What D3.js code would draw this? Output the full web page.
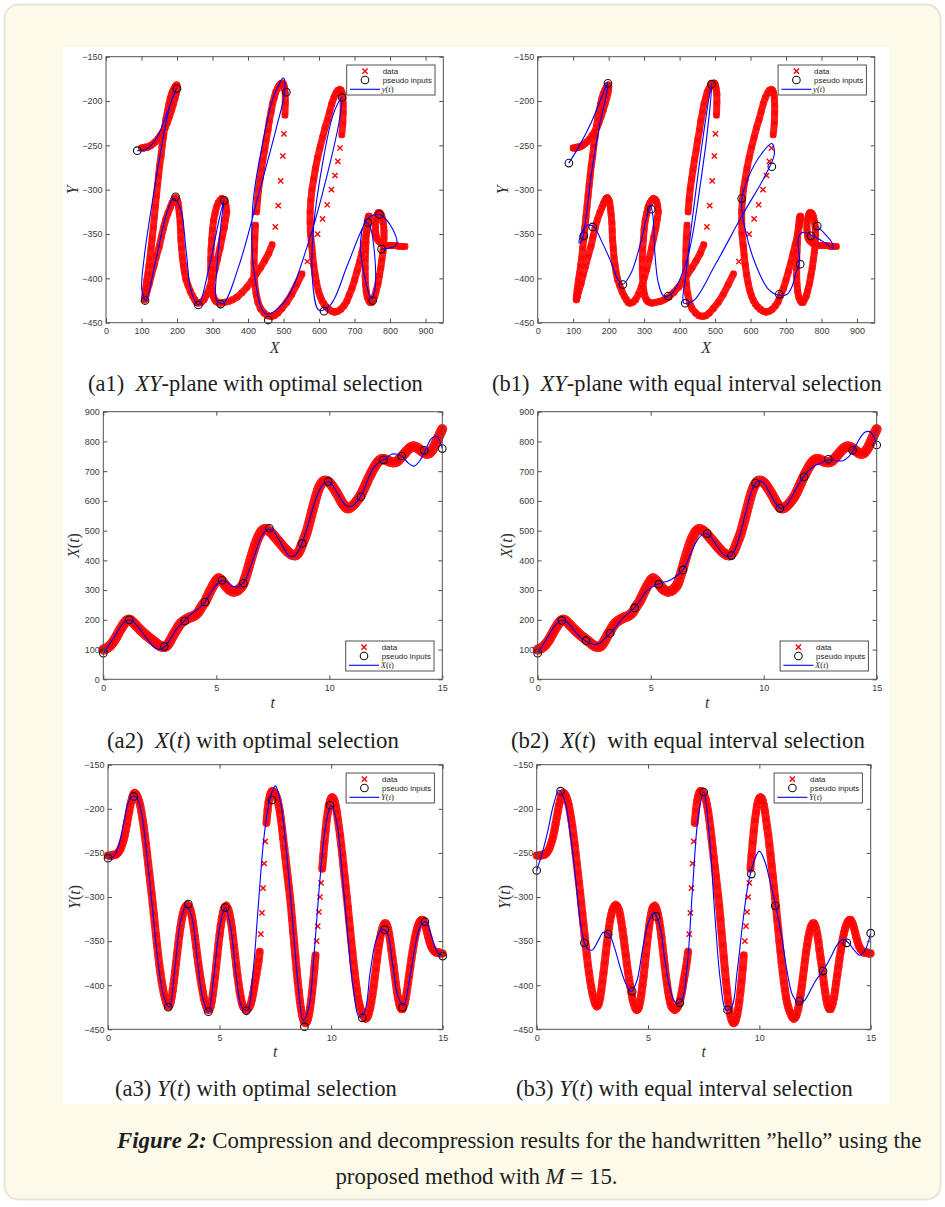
<!DOCTYPE html>
<html>
<head>
<meta charset="utf-8">
<script src="https://cdn.jsdelivr.net/npm/d3@7"></script>
<style>
  body { margin: 0; background: #fff; }
  svg { display: block; }
</style>
</head>
<body>
<script>
// handwritten "hello" trajectory, one sample every 0.05 s (t = 0 .. 15)
var dataStep = 0.05;
var dataX = [
  100,101,103,105,107,110,113,117,122,127, 133,139,146,153,160,167,173,179,185,190,
  195,198,200,200,199,196,193,189,185,181, 177,173,169,165,162,158,155,151,148,145,
  142,139,136,133,130,127,124,121,118,115, 113,111,110,109,109,110,112,116,122,128,
  135,142,150,156,162,168,175,181,186,190, 193,196,198,201,203,205,207,209,210,211,
  213,215,218,221,225,231,238,244,250,255, 260,268,276,284,292,300,307,314,321,327,
  333,337,340,338,335,331,326,321,316,311, 307,303,300,298,296,295,295,296,297,299,
  302,306,310,315,322,333,345,357,370,383, 397,410,423,435,447,458,468,477,485,492,
  498,501,504,505,505,503,501,498,495,491, 487,483,478,474,469,465,460,456,451,447,
  442,438,434,430,427,424,421,419,418,417, 417,419,423,428,435,445,455,464,474,484,
  495,509,523,537,552,567,582,596,610,623, 635,645,653,659,664,667,668,668,667,665,
  662,658,653,648,642,636,630,624,617,610, 603,596,590,585,580,577,575,575,576,579,
  582,585,589,593,598,603,608,614,620,628, 636,644,653,661,670,678,685,693,700,707,
  714,720,726,731,735,738,740,741,741,740, 738,737,735,733,732,731,730,730,730,731,
  733,736,740,744,748,752,757,761,766,770, 774,777,780,782,783,783,782,780,778,776,
  773,770,767,764,762,760,759,759,760,762, 766,771,777,784,792,800,809,817,826,834,
  842
];
var dataY = [
  -253,-253,-253,-253,-253,-252,-252,-252,-251,-250, -248,-246,-243,-239,-235,-230,-224,-217,-210,-203,
  -196,-191,-186,-183,-182,-183,-185,-188,-192,-197, -204,-212,-220,-230,-240,-251,-262,-273,-284,-295,
  -307,-319,-331,-343,-355,-366,-377,-386,-395,-402, -409,-414,-419,-422,-424,-423,-420,-414,-406,-396,
  -386,-375,-364,-353,-343,-334,-326,-320,-315,-312, -310,-309,-310,-312,-315,-321,-328,-337,-346,-356,
  -366,-376,-385,-393,-401,-408,-415,-420,-424,-427, -428,-427,-424,-418,-410,-400,-390,-378,-366,-354,
  -343,-333,-325,-318,-313,-311,-310,-312,-315,-320, -327,-335,-345,-356,-367,-378,-389,-398,-407,-414,
  -420,-424,-426,-427,-428,-427,-426,-424,-421,-416, -410,-403,-395,-388,-380,-372,-362,-342,-318,-290,
  -262,-237,-216,-202,-192,-186,-182,-180,-180,-181, -183,-186,-190,-196,-203,-212,-222,-233,-244,-255,
  -266,-277,-288,-299,-311,-325,-340,-354,-368,-382, -395,-407,-418,-427,-434,-439,-442,-443,-442,-439,
  -434,-427,-418,-407,-395,-381,-366,-350,-333,-317, -300,-284,-268,-253,-238,-225,-213,-204,-196,-191,
  -188,-187,-188,-191,-196,-203,-212,-221,-230,-241, -252,-264,-276,-288,-300,-312,-325,-337,-350,-362,
  -374,-385,-396,-405,-414,-420,-425,-429,-432,-435, -437,-438,-437,-435,-431,-426,-419,-411,-402,-392,
  -382,-372,-362,-354,-346,-340,-335,-332,-330,-330, -332,-336,-342,-350,-360,-369,-378,-388,-398,-407,
  -415,-421,-425,-427,-427,-424,-420,-414,-406,-397, -388,-379,-370,-362,-354,-347,-341,-336,-332,-329,
  -327,-326,-326,-328,-331,-335,-340,-345,-350,-354, -357,-359,-361,-362,-363,-363,-363,-363,-364,-364,
  -364
];

// pseudo inputs (M = 15)
var optT = [0, 1.15, 2.7, 3.6, 4.5, 5.25, 6.2, 7.35, 8.8, 9.95, 11.4, 12.4, 13.2, 14.2, 15];
var optX = [88, 200, 110, 196, 260, 333, 323, 508, 457, 665, 614, 738, 751, 770, 776];
var optY = [-256, -186, -425, -308, -430, -312, -429, -190, -447, -196, -437, -337, -425, -328, -367];
var eqT = [0, 1.07, 2.14, 3.21, 4.29, 5.36, 6.43, 7.5, 8.57, 9.64, 10.71, 11.79, 12.86, 13.93, 15];
var eqX = [88, 198, 130, 155, 240, 320, 368, 490, 416, 660, 575, 681, 740, 770, 788];
var eqY = [-270, -180, -352, -342, -407, -322, -420, -181, -428, -274, -310, -418, -384, -352, -341];

// reconstructed curves, one value every 0.25 s
var fitStep = 0.25;
var optFitX = [88,115,145,175,196,198,180,155,130,108,101,112,140,170,190,210,226,240,260,290,
  318,332,325,312,312,330,375,430,480,503,500,472,440,413,418,450,505,570,625,658,
  664,640,608,584,582,600,632,680,715,732,742,757,757,748,727,717,735,770,808,818,776];
var optFitY = [-256,-254,-240,-210,-188,-186,-205,-255,-315,-375,-413,-425,-380,-328,-310,-322,-370,-415,-430,-388,
  -335,-312,-335,-390,-425,-428,-385,-305,-230,-190,-174,-195,-250,-320,-395,-440,-425,-360,-280,-220,
  -196,-215,-275,-345,-405,-436,-430,-385,-350,-337,-340,-375,-413,-423,-395,-358,-333,-328,-345,-362,-367];
var eqFitX = [88,118,150,180,197,195,175,152,135,124,117,122,140,158,180,205,222,238,262,290,
  308,318,325,330,340,355,375,420,460,485,490,470,440,418,412,440,500,575,640,667,
  660,630,595,575,585,615,650,680,703,718,726,735,738,735,735,748,775,810,832,830,788];
var eqFitY = [-270,-250,-225,-196,-179,-190,-226,-280,-335,-358,-360,-350,-340,-342,-358,-380,-398,-407,-395,-360,
  -330,-318,-330,-370,-405,-420,-418,-380,-290,-210,-181,-230,-320,-395,-428,-425,-385,-330,-285,-260,
  -248,-260,-285,-312,-345,-385,-412,-419,-418,-408,-396,-387,-378,-366,-354,-348,-352,-360,-366,-360,-341];

var xyTicksX = [0, 100, 200, 300, 400, 500, 600, 700, 800, 900];
var xyTicksY = [-450, -400, -350, -300, -250, -200, -150];
var tTicks = [0, 5, 10, 15];
var xtTicks = [0, 100, 200, 300, 400, 500, 600, 700, 800, 900];

var W = 945, H = 1207;
var svg = d3.select("body").append("svg").attr("width", W).attr("height", H);

// card + white figure area
svg.append("rect").attr("x", 4.5).attr("y", 4.5).attr("width", 936).attr("height", 1195)
  .attr("rx", 14).attr("fill", "#fdfaea").attr("stroke", "#e7e5dc").attr("stroke-width", 2);
svg.append("rect").attr("x", 63).attr("y", 47).attr("width", 826).attr("height", 1057).attr("fill", "#fff");

var crossPath = "M-2.6,-2.6L2.6,2.6M-2.6,2.6L2.6,-2.6";
var axisColor = "#505050";

function pairs(a, b) { return a.map(function(v, i) { return [v, b[i]]; }); }
function timed(step, a) { return a.map(function(v, i) { return [i * step, v]; }); }

function mathText(sel, parts) {
  parts.forEach(function(p) {
    sel.append("tspan").text(p[0]).attr("font-style", p[1] ? "italic" : "normal");
  });
}

function drawPanel(o) {
  var b = o.box;
  var x = d3.scaleLinear().domain(o.xDomain).range([b.l, b.r]);
  var y = d3.scaleLinear().domain(o.yDomain).range([b.b, b.t]);
  var g = svg.append("g");
  var line = d3.line().x(function(d) { return x(d[0]); }).y(function(d) { return y(d[1]); })
    .curve(d3.curveCatmullRom.alpha(0.5));

  // data: where samples crowd together the crosses merge into a solid stroke
  var segs = d3.pairs(o.data).filter(function(s) {
    var dx = x(s[1][0]) - x(s[0][0]), dy = y(s[1][1]) - y(s[0][1]);
    return Math.sqrt(dx * dx + dy * dy) < o.gap;
  });
  g.append("g").selectAll("line").data(segs).join("line")
    .attr("x1", function(s) { return x(s[0][0]); }).attr("y1", function(s) { return y(s[0][1]); })
    .attr("x2", function(s) { return x(s[1][0]); }).attr("y2", function(s) { return y(s[1][1]); })
    .attr("stroke", "#ff1a1a").attr("stroke-width", o.band).attr("stroke-linecap", "round");
  g.append("g").selectAll("path").data(o.data).join("path")
    .attr("d", crossPath)
    .attr("transform", function(d) { return "translate(" + x(d[0]) + "," + y(d[1]) + ")"; })
    .attr("fill", "none").attr("stroke", "#ff0000").attr("stroke-width", 1.4);

  // pseudo inputs
  g.append("g").selectAll("circle").data(o.pseudo).join("circle")
    .attr("cx", function(d) { return x(d[0]); })
    .attr("cy", function(d) { return y(d[1]); })
    .attr("r", 3.8).attr("fill", "none").attr("stroke", "#111").attr("stroke-width", 1.1);

  // reconstruction
  g.append("path").datum(o.fit).attr("d", line)
    .attr("fill", "none").attr("stroke", "#0000ff").attr("stroke-width", 1.1);

  // axes (MATLAB style, inward ticks on all sides)
  var fmt = d3.format("d");
  var axes = [
    [d3.axisBottom(x).tickValues(o.xTicks).tickPadding(5).tickFormat(fmt), "translate(0," + b.b + ")"],
    [d3.axisTop(x).tickValues(o.xTicks).tickFormat(""), "translate(0," + b.t + ")"],
    [d3.axisLeft(y).tickValues(o.yTicks).tickPadding(3.5).tickFormat(fmt), "translate(" + b.l + ",0)"],
    [d3.axisRight(y).tickValues(o.yTicks).tickFormat(""), "translate(" + b.r + ",0)"]
  ];
  axes.forEach(function(a) {
    var ag = g.append("g").attr("transform", a[1]).call(a[0].tickSize(-4));
    ag.select(".domain").remove();
    ag.selectAll("line").attr("stroke", axisColor);
    ag.selectAll("text").attr("font-family", "Liberation Sans, Arial, sans-serif")
      .attr("font-size", 9).attr("fill", "#3c3c3c");
  });
  g.append("rect").attr("x", b.l).attr("y", b.t).attr("width", b.r - b.l).attr("height", b.b - b.t)
    .attr("fill", "none").attr("stroke", axisColor).attr("stroke-width", 1);

  // axis labels
  var xl = g.append("text").attr("x", (b.l + b.r) / 2).attr("y", b.b + o.xLabelDy)
    .attr("text-anchor", "middle").attr("font-family", "Liberation Serif, serif")
    .attr("font-size", 16).attr("fill", "#333");
  mathText(xl, o.xLabel);
  var yl = g.append("text")
    .attr("transform", "translate(" + (b.l - o.yLabelDx) + "," + ((b.t + b.b) / 2) + ") rotate(-90)")
    .attr("text-anchor", "middle").attr("font-family", "Liberation Serif, serif")
    .attr("font-size", 16).attr("fill", "#333");
  mathText(yl, o.yLabel);

  // legend
  var lw = 88.3, lh = 30;
  var lx = b.r - 8.3 - lw;
  var ly = o.legendAt === "top" ? b.t + 8.3 : b.b - 8.3 - lh;
  var lg = g.append("g").attr("transform", "translate(" + lx + "," + ly + ")");
  lg.append("rect").attr("width", lw).attr("height", lh).attr("fill", "#fff")
    .attr("stroke", axisColor).attr("stroke-width", 1);
  lg.append("path").attr("d", crossPath).attr("transform", "translate(18.3,6.2)")
    .attr("stroke", "#ff0000").attr("stroke-width", 1.4).attr("fill", "none");
  lg.append("circle").attr("cx", 18.3).attr("cy", 15).attr("r", 3.8)
    .attr("fill", "none").attr("stroke", "#111").attr("stroke-width", 1.1);
  lg.append("line").attr("x1", 3.3).attr("x2", 33.3).attr("y1", 24.3).attr("y2", 24.3)
    .attr("stroke", "#0000ff").attr("stroke-width", 1.1);
  var lt = [["data", 6.2], ["pseudo inputs", 15]];
  lt.forEach(function(d) {
    lg.append("text").attr("x", 36).attr("y", d[1]).attr("dy", "0.35em")
      .attr("font-family", "Liberation Sans, Arial, sans-serif").attr("font-size", 7.9)
      .attr("fill", "#222").text(d[0]);
  });
  var l3 = lg.append("text").attr("x", 35).attr("y", 24.3).attr("dy", "0.35em")
    .attr("font-family", "Liberation Serif, serif").attr("font-size", 8.5).attr("fill", "#222");
  mathText(l3, o.legendLabel);
}

var boxes = {
  a1: {l: 106, r: 443.3, t: 56.7, b: 322.7},
  b1: {l: 537.7, r: 874.7, t: 56.7, b: 322.7},
  a2: {l: 103.3, r: 442.3, t: 411.7, b: 679.3},
  b2: {l: 537.7, r: 876.7, t: 411.7, b: 679.3},
  a3: {l: 108, r: 442.7, t: 764.7, b: 1029.3},
  b3: {l: 536.7, r: 870.7, t: 764.7, b: 1029.3}
};

var labY = [["Y", 1]], labX = [["X", 1]], labT = [["t", 1]];
var labXt = [["X", 1], ["(", 0], ["t", 1], [")", 0]];
var labYt = [["Y", 1], ["(", 0], ["t", 1], [")", 0]];
var labyt = [["y", 1], ["(", 0], ["t", 1], [")", 0]];

var panels = [
  {box: boxes.a1, xDomain: [0, 950], yDomain: [-450, -150], xTicks: xyTicksX, yTicks: xyTicksY,
   data: pairs(dataX, dataY), pseudo: pairs(optX, optY), fit: pairs(optFitX, optFitY), band: 7, gap: 13,
   xLabel: labX, yLabel: labY, xLabelDy: 30, yLabelDx: 28, legendAt: "top", legendLabel: labyt},
  {box: boxes.b1, xDomain: [0, 950], yDomain: [-450, -150], xTicks: xyTicksX, yTicks: xyTicksY,
   data: pairs(dataX, dataY), pseudo: pairs(eqX, eqY), fit: pairs(eqFitX, eqFitY), band: 7, gap: 13,
   xLabel: labX, yLabel: labY, xLabelDy: 30, yLabelDx: 30, legendAt: "top", legendLabel: labyt},
  {box: boxes.a2, xDomain: [0, 15], yDomain: [0, 900], xTicks: tTicks, yTicks: xtTicks,
   data: timed(dataStep, dataX), pseudo: pairs(optT, optX), fit: timed(fitStep, optFitX), band: 10, gap: 14,
   xLabel: labT, yLabel: labXt, xLabelDy: 29, yLabelDx: 24, legendAt: "bottom", legendLabel: labXt},
  {box: boxes.b2, xDomain: [0, 15], yDomain: [0, 900], xTicks: tTicks, yTicks: xtTicks,
   data: timed(dataStep, dataX), pseudo: pairs(eqT, eqX), fit: timed(fitStep, eqFitX), band: 10, gap: 14,
   xLabel: labT, yLabel: labXt, xLabelDy: 29, yLabelDx: 26, legendAt: "bottom", legendLabel: labXt},
  {box: boxes.a3, xDomain: [0, 15], yDomain: [-450, -150], xTicks: tTicks, yTicks: xyTicksY,
   data: timed(dataStep, dataY), pseudo: pairs(optT, optY), fit: timed(fitStep, optFitY), band: 8, gap: 13.5,
   xLabel: labT, yLabel: labYt, xLabelDy: 28, yLabelDx: 28, legendAt: "top", legendLabel: labYt},
  {box: boxes.b3, xDomain: [0, 15], yDomain: [-450, -150], xTicks: tTicks, yTicks: xyTicksY,
   data: timed(dataStep, dataY), pseudo: pairs(eqT, eqY), fit: timed(fitStep, eqFitY), band: 8, gap: 13.5,
   xLabel: labT, yLabel: labYt, xLabelDy: 28, yLabelDx: 27, legendAt: "top", legendLabel: labYt}
];
panels.forEach(drawPanel);

// sub-figure captions, scaled to the measured width
function caption(x0, base, width, parts, anchor) {
  var t = svg.append("text").attr("x", x0).attr("y", base)
    .attr("font-family", "Liberation Serif, serif").attr("font-size", 20)
    .attr("fill", "#1e1e1e").attr("xml:space", "preserve").style("white-space", "pre")
    .attr("text-anchor", anchor || "start");
  parts.forEach(function(p) {
    t.append("tspan").text(p.s)
      .attr("font-style", p.i ? "italic" : "normal")
      .attr("font-weight", p.b ? "bold" : "normal");
  });
  var w = t.node().getComputedTextLength();
  t.attr("font-size", 20 * width / w);
  return 20 * width / w;
}

caption(88, 391, 335, [{s: "(a1)  "}, {s: "XY", i: 1}, {s: "-plane with optimal selection"}]);
caption(492, 391, 390, [{s: "(b1)  "}, {s: "XY", i: 1}, {s: "-plane with equal interval selection"}]);
caption(107, 748, 292, [{s: "(a2)  "}, {s: "X", i: 1}, {s: "("}, {s: "t", i: 1}, {s: ") with optimal selection"}]);
caption(511, 748, 354, [{s: "(b2)  "}, {s: "X", i: 1}, {s: "("}, {s: "t", i: 1}, {s: ")  with equal interval selection"}]);
caption(115, 1096, 282, [{s: "(a3) "}, {s: "Y", i: 1}, {s: "("}, {s: "t", i: 1}, {s: ") with optimal selection"}]);
caption(516, 1096, 337, [{s: "(b3) "}, {s: "Y", i: 1}, {s: "("}, {s: "t", i: 1}, {s: ") with equal interval selection"}]);

// figure caption
var fs = caption(117, 1148, 805, [{s: "Figure 2:", i: 1, b: 1},
  {s: " Compression and decompression results for the handwritten \u201dhello\u201d using the"}]);
var line2 = svg.append("text").attr("x", 476.5).attr("y", 1184).attr("text-anchor", "middle")
  .attr("font-family", "Liberation Serif, serif").attr("font-size", fs).attr("fill", "#1e1e1e")
  .attr("xml:space", "preserve").style("white-space", "pre");
line2.append("tspan").text("proposed method with ");
line2.append("tspan").text("M").attr("font-style", "italic");
line2.append("tspan").text(" = 15.");
</script>
</body>
</html>
